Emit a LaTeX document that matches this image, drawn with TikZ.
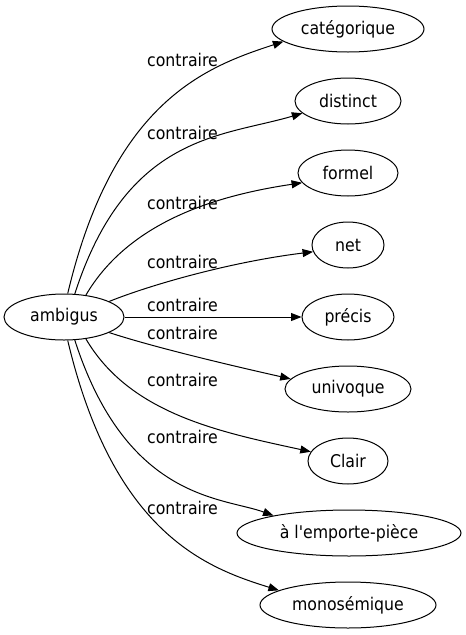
\documentclass[tikz,border=0pt]{standalone}
\usepackage{fontspec}
\setmainfont{DejaVu Sans Condensed}
\usetikzlibrary{shapes.geometric,arrows.meta}
\begin{document}
\begin{tikzpicture}[x=1pt,y=-1pt,
  word/.style={ellipse,draw,line width=1pt,inner sep=0pt,minimum height=46pt,
    font=\fontsize{17.5}{21}\selectfont},
  lbl/.style={inner sep=0pt,font=\fontsize{17.5}{21}\selectfont},
  rel/.style={line width=1pt,-{Triangle[length=10.5pt,width=8pt]}}]
\useasboundingbox (0,0) rectangle (466,635);
\node[word,minimum width=120pt] (amb) at (64,317) {ambigus};
\node[word,minimum width=152pt] (cat) at (348,29) {catégorique};
\node[word,minimum width=106pt] (dis) at (348,101) {distinct};
\node[word,minimum width=100pt] (for) at (348,173) {formel};
\node[word,minimum width=72pt] (net) at (348,245) {net};
\node[word,minimum width=92pt] (pre) at (348,317) {précis};
\node[word,minimum width=126pt] (uni) at (348,389) {univoque};
\node[word,minimum width=80pt] (cla) at (348,461) {Clair};
\node[word,minimum width=224pt] (emp) at (349,533) {à l\textquotesingle emporte-pièce};
\node[word,minimum width=176pt] (mon) at (348,605) {monosémique};
\node[lbl] (l1) at (182.5,60) {contraire};
\node[lbl] (l2) at (182.5,133) {contraire};
\node[lbl] (l3) at (182.5,203) {contraire};
\node[lbl] (l4) at (182.5,262) {contraire};
\node[lbl] (l5) at (182.5,305) {contraire};
\node[lbl] (l6) at (182.5,333) {contraire};
\node[lbl] (l7) at (182.5,380) {contraire};
\node[lbl] (l8) at (182.5,437) {contraire};
\node[lbl] (l9) at (182.5,508) {contraire};
\draw[rel] (amb.81) .. controls (113.6,100) and (207,66.6) .. (cat.191);
\draw[rel] (amb.65) .. controls (126.7,133.5) and (222,137) .. (dis.195);
\draw[rel] (amb.45) .. controls (130,220) and (220,195) .. (for.192);
\draw[rel] (amb.19) .. controls (150,285) and (230,262) .. (net.191);
\draw[rel] (amb.east) -- (pre.west);
\draw[rel] (amb.-19) .. controls (150,346) and (220,363) .. (uni.170);
\draw[rel] (amb.-45) .. controls (130,414) and (220,432) .. (cla.166);
\draw[rel] (amb.-65) .. controls (126.7,500.5) and (222,497) .. (emp.167);
\draw[rel] (amb.-81) .. controls (113.6,534) and (207,568) .. (mon.168);
\end{tikzpicture}
\end{document}
